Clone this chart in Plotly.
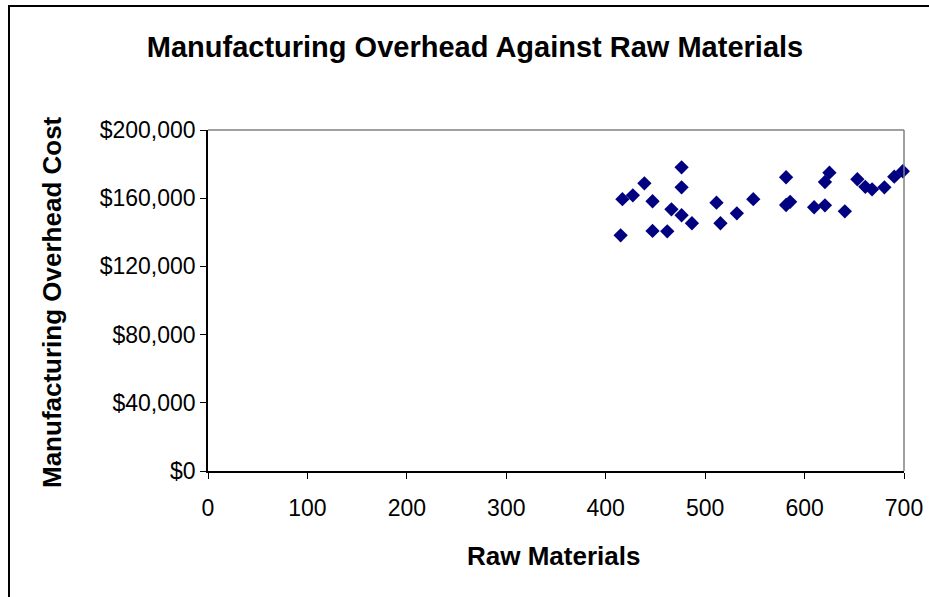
import plotly.graph_objects as go

raw_materials = [415, 416.8, 427.3, 438.9, 447.1, 447.1, 461.9, 466.1, 476.3, 476.3,
                 476.3, 486.7, 511.4, 515.4, 531.9, 548.4, 581.4, 581.4, 585.5, 609.6,
                 620.5, 620.5, 625, 640.5, 653.1, 661.1, 667.9, 680.3, 690.2, 698.8]
overhead = [138200, 159400, 161700, 168700, 158200, 140800, 140600, 153500, 178100, 166400,
            150000, 145300, 157400, 145300, 151100, 159400, 172300, 156000, 157900, 154700,
            155800, 169500, 175000, 152300, 171100, 166700, 165200, 166400, 172600, 175800]

x_ticks = [0, 100, 200, 300, 400, 500, 600, 700]
y_ticks = [0, 40000, 80000, 120000, 160000, 200000]
y_tick_labels = ["$0", "$40,000", "$80,000", "$120,000", "$160,000", "$200,000"]

W, H = 929, 597
L, R, T, B = 208, 904, 130, 471

fig = go.Figure(go.Scatter(
    x=raw_materials, y=overhead, mode="markers",
    marker=dict(symbol="diamond", size=11, color="#000080", line=dict(width=0)),
    cliponaxis=False, showlegend=False,
))

font = "Liberation Sans, Arial, sans-serif"

def px_x(p):
    return (p - L) / (R - L)

def px_y(p):
    return (B - p) / (B - T)

fig.update_layout(
    width=W, height=H,
    margin=dict(l=L, r=W - R, t=T, b=H - B, pad=0, autoexpand=False),
    paper_bgcolor="white", plot_bgcolor="white",
    font=dict(family=font, color="black", size=23),
    title=dict(text="<b>Manufacturing Overhead Against Raw Materials</b>",
               x=475 / W, xanchor="center", y=1 - 47 / H, yanchor="middle",
               font=dict(size=29, family=font)),
    xaxis=dict(range=[0, 700], tickvals=x_ticks, showgrid=False, zeroline=False,
               showline=True, linecolor="black", linewidth=1.5,
               ticks="outside", ticklen=6, tickcolor="black", tickwidth=1,
               ticklabelstandoff=10, ticklabeloverflow="allow", automargin=False),
    yaxis=dict(range=[0, 200000], tickvals=y_ticks, ticktext=y_tick_labels,
               showgrid=False, zeroline=False,
               showline=True, linecolor="black", linewidth=1.5,
               ticks="outside", ticklen=6, tickcolor="black", tickwidth=1,
               ticklabelstandoff=0, automargin=False),
    annotations=[
        dict(text="<b>Raw Materials</b>", xref="paper", yref="paper",
             x=px_x(553), y=px_y(556), xanchor="center", yanchor="middle",
             showarrow=False, font=dict(size=26)),
        dict(text="<b>Manufacturing Overhead Cost</b>", xref="paper", yref="paper",
             x=px_x(52), y=px_y(302), xanchor="center", yanchor="middle",
             textangle=-90, showarrow=False, font=dict(size=26)),
    ],
    shapes=[
        dict(type="line", xref="paper", yref="paper", x0=0, x1=1, y0=1, y1=1,
             line=dict(color="#808080", width=1.5)),
        dict(type="line", xref="paper", yref="paper", x0=1, x1=1, y0=0, y1=1,
             line=dict(color="#808080", width=1.5)),
        dict(type="rect", xref="paper", yref="paper",
             x0=px_x(9), x1=px_x(960), y0=px_y(640), y1=px_y(6),
             line=dict(color="black", width=2), fillcolor="rgba(0,0,0,0)"),
    ],
)

fig.write_html("out.html", config={"displayModeBar": False},
               post_script="document.body.style.margin='0';document.body.style.overflow='hidden';")
